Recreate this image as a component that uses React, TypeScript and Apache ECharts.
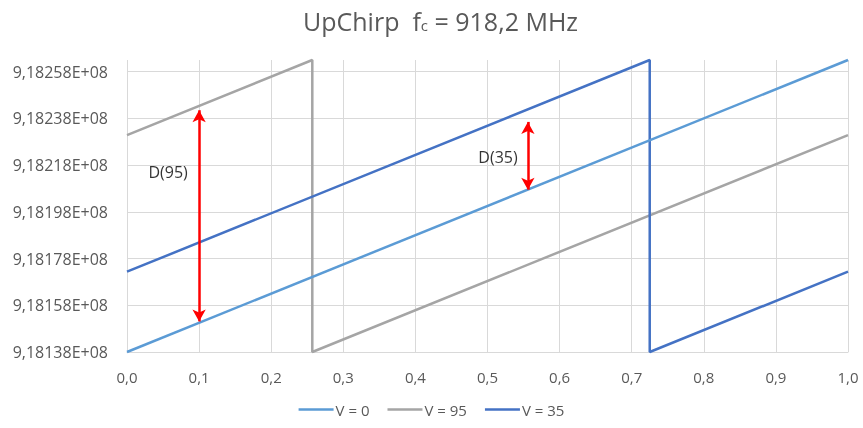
import React, { useEffect, useRef } from "react";
import * as echarts from "echarts";

const seriesNames = ["V = 0", "V = 95", "V = 35"];
const seriesColors = ["#5B9BD5", "#A5A5A5", "#4472C4"];

const v0X = [0, 1];
const v0Y = [918137500, 918262500];
const v95X = [0, 0.257, 0.257, 1];
const v95Y = [918230375, 918262500, 918137500, 918230375];
const v35X = [0, 0.725, 0.725, 1];
const v35Y = [918171875, 918262500, 918137500, 918171875];

const yTickValues = [918137500, 918157500, 918177500, 918197500, 918217500, 918237500, 918257500];

const arrowNames = ["D(95)", "D(35)"];
const arrowX = [0.1, 0.556];
const arrowFrom = [918150600, 918207000];
const arrowTo = [918241000, 918236000];
const noteX = [0.057, 0.5146];
const noteY = [918214640, 918221067];

const FONT = "'Open Sans', 'Liberation Sans', sans-serif";
const TXT = "#595959";

function zip(xs: number[], ys: number[]) {
  return xs.map((x, i) => [x, ys[i]]);
}

export default function App() {
  const ref = useRef<HTMLDivElement>(null);
  useEffect(() => {
    if (!ref.current) return;
    const chart = echarts.init(ref.current, undefined, { renderer: "svg" });
    const lineData = [zip(v0X, v0Y), zip(v95X, v95Y), zip(v35X, v35Y)];
    const series: any[] = lineData.map((d, i) => ({
      name: seriesNames[i],
      type: "line",
      data: d,
      symbol: "none",
      clip: false,
      lineStyle: { color: seriesColors[i], width: 2.5 },
      itemStyle: { color: seriesColors[i] },
      z: i === 0 ? 3 : 2,
    }));
    series.push({
      name: "arrows",
      type: "line",
      data: [],
      symbol: "none",
      markLine: {
        silent: true,
        symbol: ["arrow", "arrow"],
        symbolSize: [10, 12],
        label: { show: false },
        lineStyle: { color: "#FF0000", width: 2.5, type: "solid" },
        data: arrowX.map((x, i) => [
          { coord: [x, arrowFrom[i]] },
          { coord: [x, arrowTo[i]] },
        ]),
      },
      z: 4,
    });
    series.push({
      name: "notes",
      type: "scatter",
      symbolSize: 0,
      data: noteX.map((x, i) => ({ value: [x, noteY[i]], name: arrowNames[i] })),
      label: {
        show: true,
        position: "inside",
        formatter: (p: any) => p.name,
        color: "#000",
        fontFamily: FONT,
        fontSize: 16,
      },
      z: 5,
    });
    chart.setOption({
      animation: false,
      title: {
        text: "{a|UpChirp  f}{b|c}{a| = 918,2 MHz}",
        left: 298,
        top: 3,
        textStyle: {
          fontWeight: "normal",
          rich: {
            a: { fontFamily: FONT, fontSize: 25, fontWeight: "normal", color: TXT },
            b: { fontFamily: FONT, fontSize: 15, fontWeight: "normal", color: TXT, padding: [9, 0, 0, 0] },
          },
        },
      },
      legend: {
        data: seriesNames,
        bottom: 6,
        left: "center",
        icon: "rect",
        itemWidth: 35,
        itemHeight: 2.5,
        itemGap: 18,
        textStyle: { fontFamily: FONT, fontSize: 15, color: TXT, padding: [0, 0, 0, -3] },
      },
      grid: { left: 127, right: 15, top: 60, bottom: 76, containLabel: false },
      xAxis: {
        type: "value",
        min: 0,
        max: 1,
        interval: 0.1,
        axisLine: { show: true, lineStyle: { color: "#D9D9D9", width: 1 } },
        axisTick: { show: false },
        splitLine: { show: true, lineStyle: { color: "#D9D9D9", width: 1 } },
        axisLabel: {
          margin: 17,
          fontFamily: FONT,
          fontSize: 15,
          color: TXT,
          formatter: (v: number) => v.toFixed(1).replace(".", ","),
        },
      },
      yAxis: {
        type: "value",
        min: 918137500,
        max: 918262500,
        axisLine: { show: false },
        axisTick: { show: false, customValues: yTickValues },
        splitLine: { show: true, lineStyle: { color: "#D9D9D9", width: 1 } },
        axisLabel: {
          customValues: yTickValues,
          margin: 19,
          fontFamily: FONT,
          fontSize: 16,
          color: TXT,
          formatter: (v: number) =>
            (Math.round(v / 1000) / 1e5).toFixed(5).replace(".", ",") + "E+08",
        },
      },
      series,
    });
    return () => chart.dispose();
  }, []);
  return (
    <div
      ref={ref}
      style={{ position: "fixed", left: 0, top: 0, width: 863, height: 428 }}
    />
  );
}
